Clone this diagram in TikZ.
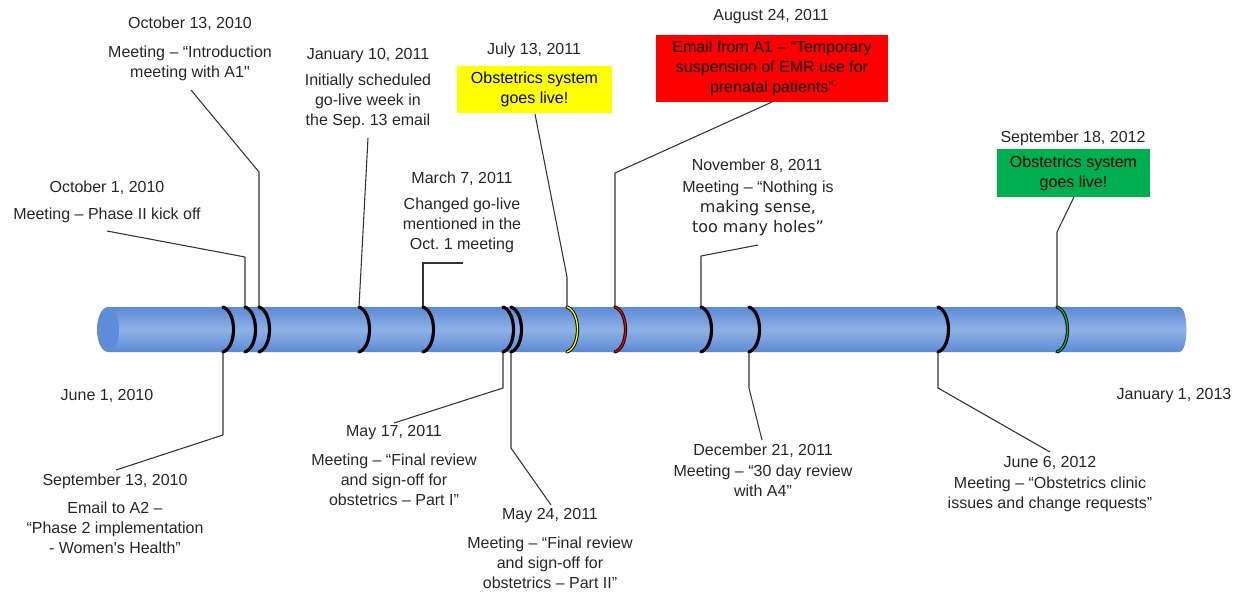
\documentclass[tikz,border=0pt]{standalone}
\usepackage{fontspec}
\newfontfamily\lib{Liberation Sans}
\newfontfamily\vera{DejaVu Sans}
\frenchspacing
\definecolor{ink}{HTML}{262626}
\definecolor{leadc}{HTML}{333333}
\definecolor{cylD}{HTML}{5A8AD6}
\definecolor{cylL}{HTML}{90B2E6}
\definecolor{cylFace}{HTML}{5D8DD8}
\definecolor{liveY}{HTML}{FFFF00}
\definecolor{alertR}{HTML}{FF0000}
\definecolor{liveG}{HTML}{00B050}
\begin{document}
\begin{tikzpicture}[x=0.75pt,y=-0.75pt,
  lbl/.style={font=\lib\fontsize{12}{15}\selectfont, text=ink, align=center, inner sep=0pt},
  boxed/.style={lbl, text=black, minimum width=#1},
  lead/.style={draw=leadc, line width=0.8pt},
  ring/.style={line width=2.4pt, black, line cap=round},
  inlay/.style={line width=1pt, draw=#1, line cap=round}]
\useasboundingbox (0,0) rectangle (1240,592);

% the time bar: a shaded cylinder lying on its side
\shade[top color=cylD, bottom color=cylD, middle color=cylL]
  (108,307) -- (1179,307) .. controls (1189,307) and (1189,352) .. (1179,352)
  -- (108,352) -- cycle;
\fill[cylFace] (108,329.5) ellipse [x radius=8.25pt, y radius=16.875pt];

% anchor points of the event rings (top and bottom edge of the bar)
\foreach \n/\x in {sep13/223, oct1/245, oct13/259, jan10/359, mar7/423,
                   may17/503, may24/511, jul13/567, aug24/615, nov8/701,
                   dec21/749, jun6/938, sep18/1057}{
  \coordinate (t\n) at (\x,307);
  \coordinate (b\n) at (\x,352);
}

% end labels
\node[lbl] (start) at (107,396) {June 1, 2010};
\node[lbl] (finish) at (1174,396) {January 1, 2013};

% events above the bar
\node[lbl] (oct13d) at (190,24) {October 13, 2010};
\node[lbl] (oct13t) at (190,63) {Meeting – “Introduction\\meeting with A1"};
\node[lbl] (oct1d) at (107,188) {October 1, 2010};
\node[lbl] (oct1t) at (107,215) {Meeting – Phase II kick off};
\node[lbl] (jan10d) at (368,56) {January 10, 2011};
\node[lbl] (jan10t) at (368,101) {Initially scheduled\\go-live week in\\the Sep. 13 email};
\node[lbl] (mar7d) at (462,179) {March 7, 2011};
\node[lbl] (mar7t) at (462,225) {Changed go-live\\mentioned in the\\Oct. 1 meeting};
\node[lbl] (jul13d) at (534,50) {July 13, 2011};
\node[boxed=155*0.75pt, minimum height=47*0.75pt, fill=liveY] (jul13t) at (534.5,89.5)
  {Obstetrics system\\goes live!};
\node[lbl] (aug24d) at (771,17) {August 24, 2011};
\node[boxed=232*0.75pt, minimum height=67*0.75pt, fill=alertR] (aug24t) at (772,68.5)
  {Email from A1 – “Temporary\\suspension of EMR use for\\prenatal patients"};
\node[lbl] (nov8d) at (757,166) {November 8, 2011};
\node[lbl] (nov8t) at (758,208) {Meeting – “Nothing is\\{\vera making sense,}\\{\vera too many holes”}};
\node[lbl] (sep18d) at (1073,138) {September 18, 2012};
\node[boxed=153*0.75pt, minimum height=48*0.75pt, fill=liveG] (sep18t) at (1073.5,173)
  {Obstetrics system\\goes live!};

% events below the bar
\node[lbl] (sep13d) at (115,481) {September 13, 2010};
\node[lbl] (sep13t) at (115,528) {Email to A2 –\\“Phase 2 implementation\\- Women's Health”};
\node[lbl] (may17d) at (394,433) {May 17, 2011};
\node[lbl] (may17t) at (394,480) {Meeting – “Final review\\and sign-off for\\obstetrics – Part I”};
\node[lbl] (may24d) at (550,516) {May 24, 2011};
\node[lbl] (may24t) at (550,563) {Meeting – “Final review\\and sign-off for\\obstetrics – Part II”};
\node[lbl] (dec21d) at (763,451) {December 21, 2011};
\node[lbl] (dec21t) at (763,481) {Meeting – “30 day review\\with A4”};
\node[lbl] (jun6d) at (1050,463) {June 6, 2012};
\node[lbl] (jun6t) at (1050,494) {Meeting – “Obstetrics clinic\\issues and change requests”};

% leader line end points and bends
\coordinate (oct13s) at (191,90);   \coordinate (oct13k) at (259,172);
\coordinate (oct1s) at (107,231);   \coordinate (oct1k) at (245,257);
\coordinate (jan10s) at (368,138);
\coordinate (mar7s) at (463,263);   \coordinate (mar7k) at (423,263);
\coordinate (jul13s) at (535,114);  \coordinate (jul13k) at (567,277);
\coordinate (aug24s) at (772,102);  \coordinate (aug24k) at (615,173);
\coordinate (nov8s) at (758,245);   \coordinate (nov8k) at (701,256);
\coordinate (sep18s) at (1074,197); \coordinate (sep18k) at (1057,232);
\coordinate (sep13s) at (116,470);  \coordinate (sep13k) at (223,435);
\coordinate (may17s) at (394,423);  \coordinate (may17k) at (503,388);
\coordinate (may24s) at (551,505);  \coordinate (may24k) at (511,448);
\coordinate (dec21s) at (762,440);  \coordinate (dec21k) at (749,388);
\coordinate (jun6s) at (1050,452);  \coordinate (jun6k) at (938,388);

% leader lines
\draw[lead] (oct13s) -- (oct13k) -- (toct13);
\draw[lead] (oct1s) -- (oct1k) -- (toct1);
\draw[lead] (jan10s) -- (tjan10);
\draw[lead] (mar7s) -- (mar7k) -- (tmar7);
\draw[lead] (jul13s) -- (jul13k) -- (tjul13);
\draw[lead] (aug24s) -- (aug24k) -- (taug24);
\draw[lead] (nov8s) -- (nov8k) -- (tnov8);
\draw[lead] (sep18s) -- (sep18k) -- (tsep18);
\draw[lead] (sep13s) -- (sep13k) -- (bsep13);
\draw[lead] (may17s) -- (may17k) -- (bmay17);
\draw[lead] (may24s) -- (may24k) -- (bmay24);
\draw[lead] (dec21s) -- (dec21k) -- (bdec21);
\draw[lead] (jun6s) -- (jun6k) -- (bjun6);

% event rings around the bar
\foreach \n in {sep13, oct1, oct13, jan10, mar7, may17, may24, jul13,
                aug24, nov8, dec21, jun6, sep18}{
  \draw[ring] (t\n) .. controls +(14,5) and +(14,-5) .. (b\n);
}
\draw[inlay=liveY] (tjul13) .. controls +(14,5) and +(14,-5) .. (bjul13);
\draw[inlay=alertR] (taug24) .. controls +(14,5) and +(14,-5) .. (baug24);
\draw[inlay=liveG] (tsep18) .. controls +(14,5) and +(14,-5) .. (bsep18);
\end{tikzpicture}
\end{document}
